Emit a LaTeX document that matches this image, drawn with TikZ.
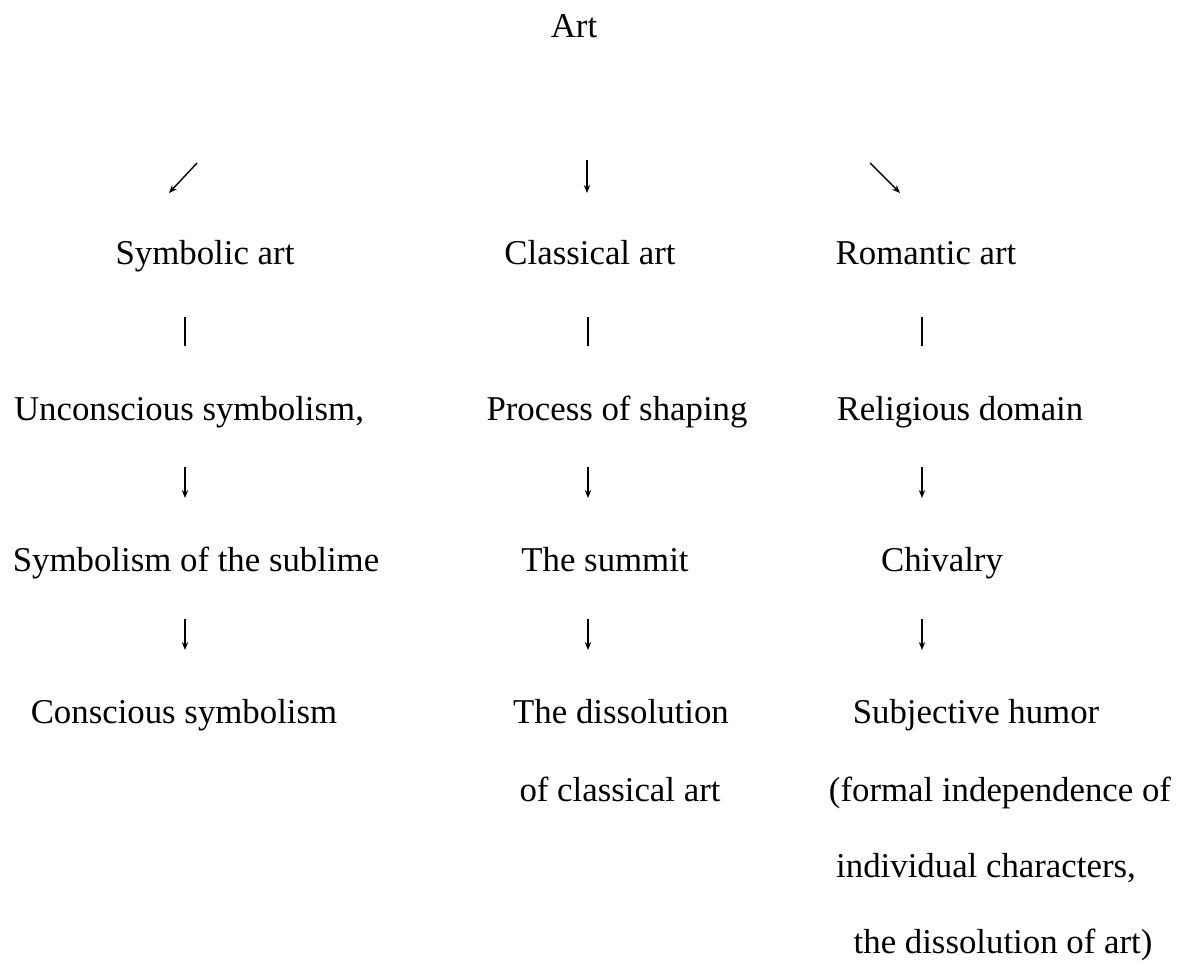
\documentclass[tikz,border=0pt]{standalone}
\usepackage{fontspec}
\setmainfont{Liberation Serif}
\usetikzlibrary{arrows.meta}
\begin{document}
\begin{tikzpicture}[x=0.5pt,y=-0.5pt,
  lbl/.style={anchor=base,inner sep=0pt,font=\fontsize{17.4}{20}\selectfont},
  arr/.style={line width=0.7pt,-{Stealth[length=4pt,width=3.2pt]}},
  bar/.style={line width=0.7pt}]
\useasboundingbox[fill=white] (0,0) rectangle (1192,967);
% nodes
\node[lbl] (art) at (574,38) {Art};
\node[lbl] (sym) at (205,265) {Symbolic art};
\node[lbl] (cla) at (590,265) {Classical art};
\node[lbl] (rom) at (926,265) {Romantic art};
\node[lbl] (unc) at (189,421) {Unconscious symbolism,};
\node[lbl] (pro) at (617,421) {Process of shaping};
\node[lbl] (rel) at (960,421) {Religious domain};
\node[lbl] (sub) at (196,571) {Symbolism of the sublime};
\node[lbl] (sum) at (605,571) {The summit};
\node[lbl] (chi) at (942,571) {Chivalry};
\node[lbl] (con) at (184,723) {Conscious symbolism};
\node[lbl] (dis) at (621,723) {The dissolution};
\node[lbl] (dis2) at (620,801) {of classical art};
\node[lbl] (hum) at (976,723) {Subjective humor};
\node[lbl] (hum2) at (1000,801) {(formal independence of};
\node[lbl] (hum3) at (986,877) {individual characters,};
\node[lbl] (hum4) at (1003,953) {the dissolution of art)};
% connector end points
\coordinate (a1s) at (197,163); \coordinate (a1e) at (169,193);
\coordinate (a2s) at (587,160); \coordinate (a2e) at (587,193);
\coordinate (a3s) at (870,163); \coordinate (a3e) at (900,193);
\foreach \c/\x in {1/185,2/588,3/922}{
  \coordinate (b\c s) at (\x,317); \coordinate (b\c e) at (\x,346);
  \coordinate (c\c s) at (\x,467); \coordinate (c\c e) at (\x,498);
  \coordinate (d\c s) at (\x,619); \coordinate (d\c e) at (\x,650);
}
\draw[arr] (a1s) -- (a1e);
\draw[arr] (a2s) -- (a2e);
\draw[arr] (a3s) -- (a3e);
\foreach \c in {1,2,3}{
  \draw[bar] (b\c s) -- (b\c e);
  \draw[arr] (c\c s) -- (c\c e);
  \draw[arr] (d\c s) -- (d\c e);
}
\end{tikzpicture}
\end{document}
